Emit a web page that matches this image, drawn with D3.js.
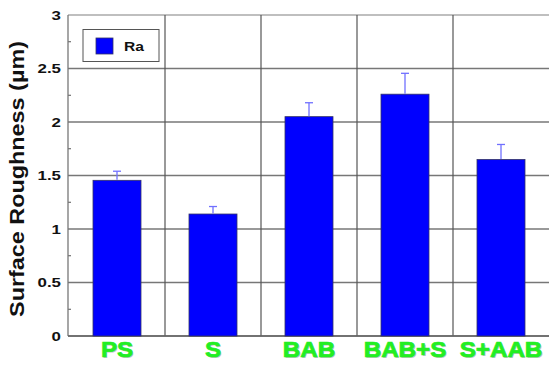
<!DOCTYPE html>
<html lang="en">
<head>
<meta charset="utf-8">
<script src="https://d3js.org/d3.v7.min.js"></script>
<style type="text/css">
body { margin: 0; background: #fff; }
svg { display: block; font-family: Arial, "Liberation Sans", sans-serif; }
</style>
</head>
<body>
<div id="chart"></div>
<script type="text/javascript">

// data
var categories = ["PS", "S", "BAB", "BAB+S", "S+AAB"];
var raValues   = [1.455, 1.14, 2.05, 2.26, 1.65];
var raErrors   = [0.085, 0.07, 0.13, 0.195, 0.14];
var yTicks     = [0, 0.5, 1, 1.5, 2, 2.5, 3];
var yMinor     = [0.25, 0.75, 1.25, 1.75, 2.25, 2.75];

var width = 549, height = 365;
var margin = {left: 68, top: 15, right: 0, bottom: 29};

var svg = d3.select("#chart").append("svg")
    .attr("width", width)
    .attr("height", height);

var x = d3.scaleBand()
    .domain(categories)
    .range([margin.left + 1, width - margin.right])
    .paddingInner(0).paddingOuter(0);

var y = d3.scaleLinear()
    .domain([0, 3])
    .range([height - margin.bottom, margin.top]);

var grid = svg.append("g");

// horizontal grid
grid.selectAll("line.h")
    .data(yTicks)
    .enter().append("line")
    .attr("x1", margin.left).attr("x2", width)
    .attr("y1", function(d) { return y(d); })
    .attr("y2", function(d) { return y(d); })
    .attr("stroke", function(d) { return d == 3 ? "#aaa" : "#777"; })
    .attr("stroke-width", 1.3);

// vertical grid between categories
grid.selectAll("line.v")
    .data(categories.slice(1))
    .enter().append("line")
    .attr("x1", function(d) { return x(d); })
    .attr("x2", function(d) { return x(d); })
    .attr("y1", y(3)).attr("y2", y(0))
    .attr("stroke", "#555")
    .attr("stroke-width", 1.2);

// minor ticks inside left axis
grid.selectAll("line.m")
    .data(yMinor)
    .enter().append("line")
    .attr("x1", margin.left).attr("x2", margin.left + 3)
    .attr("y1", function(d) { return y(d); })
    .attr("y2", function(d) { return y(d); })
    .attr("stroke", "#555");

// axes lines
svg.append("line")
    .attr("x1", margin.left).attr("x2", margin.left)
    .attr("y1", y(3)).attr("y2", y(0))
    .attr("stroke", "#777").attr("stroke-width", 1.3);
svg.append("line")
    .attr("x1", margin.left).attr("x2", width)
    .attr("y1", y(0)).attr("y2", y(0))
    .attr("stroke", "#666").attr("stroke-width", 1.5);

// bars
var bw = x.bandwidth() / 2;
svg.selectAll("rect.bar")
    .data(raValues)
    .enter().append("rect")
    .attr("class", "bar")
    .attr("x", function(d, i) { return x(categories[i]) + x.bandwidth() / 2 - bw / 2; })
    .attr("y", function(d) { return y(d); })
    .attr("width", bw)
    .attr("height", function(d) { return y(0) - y(d); })
    .attr("fill", "#0000ff")
    .attr("stroke", "#333366")
    .attr("stroke-width", 0.8);

// error bars (upper only)
var err = svg.selectAll("g.err")
    .data(raValues)
    .enter().append("g")
    .attr("stroke", "#7070ff")
    .attr("stroke-width", 1.3);
err.append("line")
    .attr("x1", function(d, i) { return x(categories[i]) + x.bandwidth() / 2; })
    .attr("x2", function(d, i) { return x(categories[i]) + x.bandwidth() / 2; })
    .attr("y1", function(d) { return y(d) - 0.5; })
    .attr("y2", function(d, i) { return y(d + raErrors[i]); });
err.append("line")
    .attr("x1", function(d, i) { return x(categories[i]) + x.bandwidth() / 2 - 4; })
    .attr("x2", function(d, i) { return x(categories[i]) + x.bandwidth() / 2 + 4; })
    .attr("y1", function(d, i) { return y(d + raErrors[i]); })
    .attr("y2", function(d, i) { return y(d + raErrors[i]); });

// y tick labels (text in the original is stretched sideways)
svg.selectAll("text.yt")
    .data(yTicks)
    .enter().append("text")
    .attr("transform", function(d) { return "translate(61," + y(d) + ") scale(1.3,1)"; })
    .attr("dy", "0.35em")
    .attr("text-anchor", "end")
    .attr("font-size", 13)
    .attr("font-weight", "bold")
    .attr("fill", "#111")
    .text(function(d) { return d; });

// x labels, with a soft grey shadow like the original
var xl = svg.selectAll("g.xl")
    .data(categories)
    .enter().append("g")
    .attr("transform", function(d) { return "translate(" + (x(d) + x.bandwidth() / 2) + ",356.5) scale(1.1,1)"; });
xl.append("text")
    .attr("x", 1).attr("y", 1)
    .attr("text-anchor", "middle")
    .attr("font-size", 22)
    .attr("font-weight", "bold")
    .attr("fill", "#999")
    .attr("opacity", 0.6)
    .text(function(d) { return d; });
xl.append("text")
    .attr("text-anchor", "middle")
    .attr("font-size", 22)
    .attr("font-weight", "bold")
    .attr("fill", "#22ee22")
    .attr("stroke", "#22ee22")
    .attr("stroke-width", 0.7)
    .text(function(d) { return d; });

// y title
svg.append("text")
    .attr("transform", "translate(24,179) rotate(-90) scale(1.17,1)")
    .attr("text-anchor", "middle")
    .attr("font-size", 20)
    .attr("font-weight", "bold")
    .attr("fill", "#111")
    .text("Surface Roughness (\u00b5m)");

// legend
var legend = svg.append("g");
legend.append("rect")
    .attr("x", 83).attr("y", 29.5)
    .attr("width", 76).attr("height", 32)
    .attr("fill", "#fff")
    .attr("stroke", "#555").attr("stroke-width", 1);
legend.append("rect")
    .attr("x", 96).attr("y", 38)
    .attr("width", 17).attr("height", 16)
    .attr("fill", "#0000ff")
    .attr("stroke", "#333366").attr("stroke-width", 0.8);
legend.append("text")
    .attr("transform", "translate(124,51) scale(1.25,1)")
    .attr("font-size", 12.5)
    .attr("font-weight", "bold")
    .attr("fill", "#111")
    .text("Ra");

</script>
</body>
</html>
